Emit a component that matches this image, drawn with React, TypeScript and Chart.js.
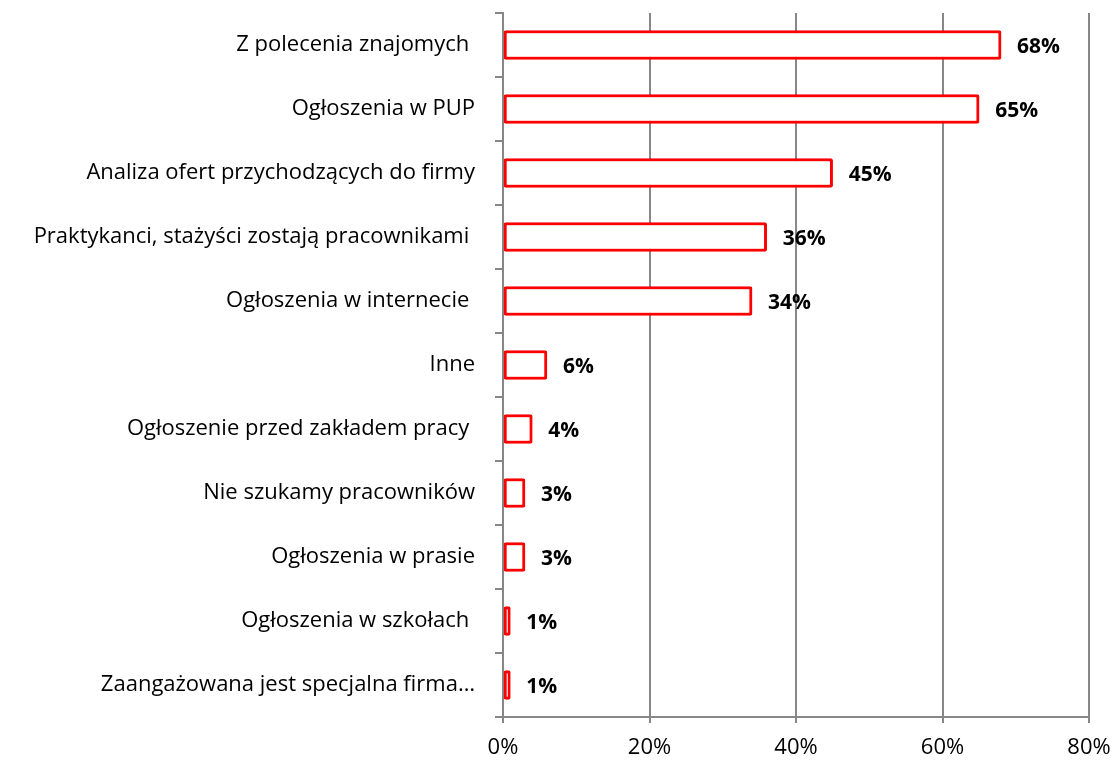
import React, { useEffect, useRef } from "react";
import { Chart, registerables } from "chart.js";

Chart.register(...registerables);

const categories = [
  "Z polecenia znajomych ",
  "Ogłoszenia w PUP",
  "Analiza ofert przychodzących do firmy",
  "Praktykanci, stażyści zostają pracownikami ",
  "Ogłoszenia w internecie ",
  "Inne",
  "Ogłoszenie przed zakładem pracy ",
  "Nie szukamy pracowników",
  "Ogłoszenia w prasie",
  "Ogłoszenia w szkołach ",
  "Zaangażowana jest specjalna firma…",
];

const values = [68, 65, 45, 36, 34, 6, 4, 3, 3, 1, 1];

const xTicks = [0, 20, 40, 60, 80];

const FONT = "'Open Sans', Lato, sans-serif";
const GRID = "#878787";

const dataLabels = {
  id: "dataLabels",
  afterDatasetsDraw(chart: any) {
    const ctx = chart.ctx;
    const meta = chart.getDatasetMeta(0);
    ctx.save();
    ctx.font = `bold 21px ${FONT}`;
    ctx.fillStyle = "#000";
    ctx.textAlign = "left";
    ctx.textBaseline = "middle";
    meta.data.forEach((el: any, i: number) => {
      ctx.fillText(values[i] + "%", el.x + 16, el.y + 2);
    });
    ctx.restore();
  },
};

export default function App() {
  const ref = useRef<HTMLCanvasElement>(null);
  useEffect(() => {
    const chart = new Chart(ref.current!, {
      type: "bar",
      data: {
        labels: categories,
        datasets: [
          {
            data: values,
            backgroundColor: "#ffffff",
            borderColor: "#ff0000",
            borderWidth: 3,
            borderRadius: 2,
            borderSkipped: false,
            barThickness: 29,
          },
        ],
      },
      options: {
        indexAxis: "y",
        animation: false,
        responsive: false,
        devicePixelRatio: 1,
        layout: { padding: { top: 13, right: 26, left: 0, bottom: 0 } },
        plugins: { legend: { display: false }, tooltip: { enabled: false } },
        scales: {
          x: {
            min: 0,
            max: 80,
            afterBuildTicks: (s: any) => {
              s.ticks = xTicks.map((v) => ({ value: v }));
            },
            afterFit: (s: any) => {
              s.height = 43;
              s.paddingLeft = 0;
              s.paddingRight = 0;
            },
            ticks: {
              callback: (v: any) => v + "%",
              color: "#000",
              font: { family: FONT, size: 22 },
              padding: 12,
              maxRotation: 0,
            },
            grid: { color: GRID, lineWidth: 2, tickLength: 6, drawTicks: true },
            border: { color: GRID, width: 2 },
          },
          y: {
            afterFit: (s: any) => {
              s.width = 503;
              s.paddingTop = 0;
              s.paddingBottom = 0;
            },
            ticks: {
              color: "#000",
              font: { family: FONT, size: 22 },
              padding: 20,
              autoSkip: false,
            },
            grid: {
              color: GRID,
              lineWidth: 2,
              drawOnChartArea: false,
              drawTicks: true,
              tickLength: 8,
              offset: true,
            },
            border: { color: GRID, width: 2 },
          },
        },
      },
      plugins: [dataLabels],
    });
    return () => chart.destroy();
  }, []);
  return (
    <div style={{ position: "fixed", left: 0, top: 0, width: 1115, height: 760, background: "#fff" }}>
      <canvas ref={ref} width={1115} height={760} style={{ width: 1115, height: 760 }} />
    </div>
  );
}
